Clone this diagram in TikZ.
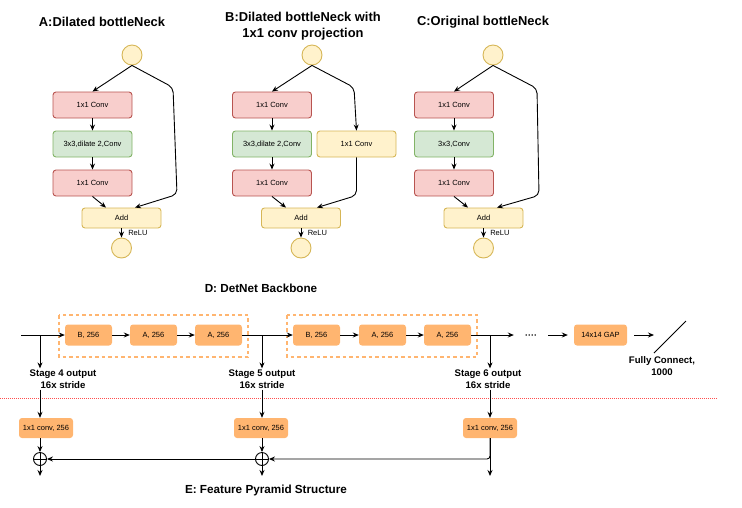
\documentclass[tikz,border=0pt]{standalone}
\usepackage{fontspec}
\setmainfont{Liberation Sans}
\usetikzlibrary{arrows.meta}
\definecolor{pinkfill}{HTML}{F8CECC}
\definecolor{pinkline}{HTML}{B85450}
\definecolor{greenfill}{HTML}{D5E8D4}
\definecolor{greenline}{HTML}{82B366}
\definecolor{yellowfill}{HTML}{FFF2CC}
\definecolor{yellowline}{HTML}{D6B656}
\definecolor{orangefill}{HTML}{FFB570}
\definecolor{dotred}{HTML}{FF4D4D}

\begin{document}
\begin{tikzpicture}[x=1pt,y=-1pt,
        every node/.style={font=\fontsize{7.5}{9}\selectfont},
        box/.style={rectangle, rounded corners=3pt, minimum width=79pt, minimum height=26pt, inner sep=0pt, line width=0.9pt},
        pinkbox/.style={box, draw=pinkline, fill=pinkfill},
        greenbox/.style={box, draw=greenline, fill=greenfill},
        yellowbox/.style={box, draw=yellowline, fill=yellowfill},
        addbox/.style={yellowbox, minimum height=20pt},
        io/.style={circle, draw=yellowline, fill=yellowfill, line width=0.9pt, minimum size=20pt, inner sep=0pt},
        obox/.style={rectangle, rounded corners=3pt, fill=orangefill, minimum width=47pt, minimum height=21pt, inner sep=0pt},
        convbox/.style={obox, minimum width=54pt, minimum height=20pt},
        grp/.style={draw=orangefill, line width=1.3pt, dash pattern=on 3.5pt off 3pt},
        plus/.style={circle, draw, line width=0.9pt, minimum size=13pt, inner sep=0pt,
            path picture={\draw[line width=0.9pt] (path picture bounding box.north) -- (path picture bounding box.south)
                (path picture bounding box.west) -- (path picture bounding box.east);}},
        arr/.style={-{Stealth[length=6pt,width=5pt]}, line width=0.9pt},
        title/.style={font=\bfseries\fontsize{12.9}{16}\selectfont, align=center},
        head/.style={font=\bfseries\fontsize{11.7}{14}\selectfont},
        stage/.style={font=\bfseries\fontsize{9.6}{12}\selectfont, align=center, inner sep=1pt},
    ]
    \useasboundingbox (0,0) rectangle (742,507);

    % A: dilated bottleneck
    \node[title] (ttlA) at (102,22) {A:Dilated bottleNeck};
    \node[io] (inA) at (132,55) {};
    \node[pinkbox] (convA1) at (92.5,105) {1x1 Conv};
    \node[greenbox] (dilA) at (92.5,144) {3x3,dilate 2,Conv};
    \node[pinkbox] (convA2) at (92.5,183) {1x1 Conv};
    \node[addbox] (addA) at (121.5,218) {Add};
    \node[io] (outA) at (121.5,248) {};
    \draw[arr] (inA.south) -- (convA1.north);
    \draw[arr] (convA1) -- (dilA);
    \draw[arr] (dilA) -- (convA2);
    \draw[arr] (convA2.south) -- ([xshift=-15.5pt]addA.north);
    \draw[arr, rounded corners=5pt] (inA.south) -- ++(41,22) -- ++(4,107) -- ([xshift=13.5pt]addA.north);
    \draw[arr] (addA) -- (outA) node[midway, right=3pt] {ReLU};

    % B: dilated bottleneck with projection
    \node[title] (ttlB) at (303,26) {B:Dilated bottleNeck with\\1x1 conv projection};
    \node[io] (inB) at (312,55) {};
    \node[pinkbox] (convB1) at (272,105) {1x1 Conv};
    \node[greenbox] (dilB) at (272,144) {3x3,dilate 2,Conv};
    \node[pinkbox] (convB2) at (272,183) {1x1 Conv};
    \node[yellowbox] (projB) at (356.5,144) {1x1 Conv};
    \node[addbox] (addB) at (301,218) {Add};
    \node[io] (outB) at (301,248) {};
    \draw[arr] (inB.south) -- (convB1.north);
    \draw[arr] (convB1) -- (dilB);
    \draw[arr] (dilB) -- (convB2);
    \draw[arr] (convB2.south) -- ([xshift=-15pt]addB.north);
    \draw[arr, rounded corners=5pt] (inB.south) -- ++(42,22) -- (projB.north);
    \draw[arr, rounded corners=5pt] (projB.south) -- ++(0,38) -- ([xshift=16pt]addB.north);
    \draw[arr] (addB) -- (outB) node[midway, right=3pt] {ReLU};

    % C: original bottleneck
    \node[title] (ttlC) at (483,22) {C:Original bottleNeck};
    \node[io] (inC) at (493,55) {};
    \node[pinkbox] (convC1) at (454,105) {1x1 Conv};
    \node[greenbox] (dilC) at (454,144) {3x3,Conv};
    \node[pinkbox] (convC2) at (454,183) {1x1 Conv};
    \node[addbox] (addC) at (483.5,218) {Add};
    \node[io] (outC) at (483.5,248) {};
    \draw[arr] (inC.south) -- (convC1.north);
    \draw[arr] (convC1) -- (dilC);
    \draw[arr] (dilC) -- (convC2);
    \draw[arr] (convC2.south) -- ([xshift=-15.5pt]addC.north);
    \draw[arr, rounded corners=5pt] (inC.south) -- ++(44,23) -- ++(2,107) -- ([xshift=13.5pt]addC.north);
    \draw[arr] (addC) -- (outC) node[midway, right=3pt] {ReLU};

    % D: backbone
    \node[head] (ttlD) at (261,288) {D: DetNet Backbone};
    \draw[grp] (59,315) rectangle (248,357);
    \draw[grp] (287,315) rectangle (477,357);
    \coordinate (start) at (21,335);
    \coordinate (s4) at (40,335);
    \coordinate (s5) at (262,335);
    \coordinate (s6) at (490,335);
    \node[obox] (b1) at (88.5,335) {B, 256};
    \node[obox] (a1) at (153.5,335) {A, 256};
    \node[obox] (a2) at (218.5,335) {A, 256};
    \node[obox] (b2) at (316.5,335) {B, 256};
    \node[obox] (a3) at (382.5,335) {A, 256};
    \node[obox] (a4) at (447.5,335) {A, 256};
    \node[minimum width=34pt, inner sep=0pt, text height=0.62em, text depth=0pt, font=\bfseries\fontsize{9}{10}\selectfont] (dots) at (531,335) {····};
    \node[obox, minimum width=53pt] (gap) at (600.5,335) {14x14 GAP};
    \coordinate (fcA) at (654,353);
    \coordinate (fcB) at (686,321);
    \draw[arr] (start) -- (b1);
    \draw[arr] (b1) -- (a1);
    \draw[arr] (a1) -- (a2);
    \draw[arr] (a2) -- (b2);
    \draw[arr] (b2) -- (a3);
    \draw[arr] (a3) -- (a4);
    \draw[arr] (a4) -- (dots);
    \draw[arr, shorten >=6pt] (dots.east) -- (gap.west);
    \draw[arr, shorten <=7pt] (gap.east) -- (fcA |- gap.east);
    \draw[line width=0.9pt] (fcA) -- (fcB);
    \node[stage] (fclab) at (662,366) {Fully Connect,\\1000};

    \node[stage] (lab4) at (63,379) {Stage 4 output\\16x stride};
    \node[stage] (lab5) at (262,379) {Stage 5 output\\16x stride};
    \node[stage] (lab6) at (488,379) {Stage 6 output\\16x stride};
    \draw[arr] (s4) -- (s4 |- lab4.north);
    \draw[arr] (s5) -- (s5 |- lab5.north);
    \draw[arr] (s6) -- (s6 |- lab6.north);

    \draw[dotred, line width=1pt, dash pattern=on 1pt off 1pt] (0,398) -- (718,398);

    % E: feature pyramid
    \node[convbox] (fp1) at (46,428) {1x1 conv, 256};
    \node[convbox] (fp2) at (261,428) {1x1 conv, 256};
    \node[convbox] (fp3) at (490,428) {1x1 conv, 256};
    \node[plus] (p1) at (40,459) {};
    \node[plus] (p2) at (262,459) {};
    \coordinate (o1) at (40,476);
    \coordinate (o2) at (262,476);
    \coordinate (o3) at (490,476);
    \draw[arr] (lab4.south -| s4) -- (s4 |- fp1.north);
    \draw[arr] (lab5.south -| s5) -- (s5 |- fp2.north);
    \draw[arr] (lab6.south -| s6) -- (s6 |- fp3.north);
    \draw[arr] (s4 |- fp1.south) -- (p1);
    \draw[arr] (s5 |- fp2.south) -- (p2);
    \draw[arr] (p1) -- (o1);
    \draw[arr] (p2) -- (o2);
    \draw[arr] (fp3.south) -- (o3);
    \draw[arr, rounded corners=3pt] (fp3.south) -- (fp3.south |- p2) -- (p2);
    \draw[arr] (p2) -- (p1);
    \node[head] (ttlE) at (266,490) {E: Feature Pyramid Structure};
\end{tikzpicture}
\end{document}
